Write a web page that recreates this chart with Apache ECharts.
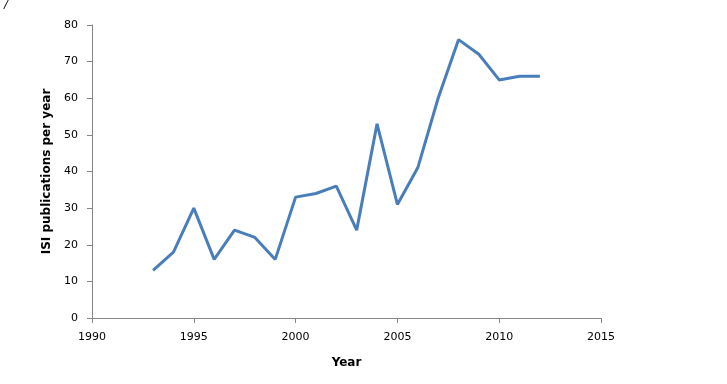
<!DOCTYPE html>
<html><head><meta charset="utf-8">
<script src="https://cdn.jsdelivr.net/npm/echarts@6/dist/echarts.min.js"></script>
<style>html,body{margin:0;padding:0;background:#fff}#c{width:727px;height:384px}</style>
</head><body><div id="c"></div>
<script>
const years = [1993,1994,1995,1996,1997,1998,1999,2000,2001,2002,2003,2004,2005,2006,2007,2008,2009,2010,2011,2012];
const publications = [13,18,30,16,24,22,16,33,34,36,24,53,31,41,60,76,72,65,66,66];
const xTitle = 'Year';
const yTitle = 'ISI publications per year';

const chart = echarts.init(document.getElementById('c'));
const font = 'DejaVu Sans';
chart.setOption({
  animation: false,
  backgroundColor: '#fff',
  grid: {left: 92, right: 126, top: 25, bottom: 66},
  graphic: [{type:'text', left: 4, top: 0, style:{text:'/', font:'italic 11px DejaVu Sans', fill:'#000'}}],
  xAxis: {
    type: 'value', min: 1990, max: 2015, interval: 5,
    name: xTitle, nameLocation: 'middle', nameGap: 39,
    nameTextStyle: {fontFamily: font, fontWeight: 'bold', fontSize: 12, color: '#000'},
    axisLine: {lineStyle: {color: '#868686'}},
    axisTick: {length: 5, lineStyle: {color: '#868686'}},
    axisLabel: {fontFamily: font, fontSize: 11, color: '#000', margin: 14, formatter: v => String(v)},
    splitLine: {show: false}
  },
  yAxis: {
    type: 'value', min: 0, max: 80, interval: 10,
    name: yTitle, nameLocation: 'middle', nameGap: 35, nameRotate: 90,
    nameTextStyle: {fontFamily: font, fontWeight: 'bold', fontSize: 12, color: '#000'},
    axisLine: {show: true, lineStyle: {color: '#868686'}},
    axisTick: {show: true, length: 5, lineStyle: {color: '#868686'}},
    axisLabel: {fontFamily: font, fontSize: 11, color: '#000', margin: 14},
    splitLine: {show: false}
  },
  series: [{
    type: 'line',
    data: years.map((y,i)=>[y, publications[i]]),
    showSymbol: false,
    lineStyle: {color: '#4a7ebb', width: 3},
    itemStyle: {color: '#4a7ebb'}
  }]
});
</script></body></html>
